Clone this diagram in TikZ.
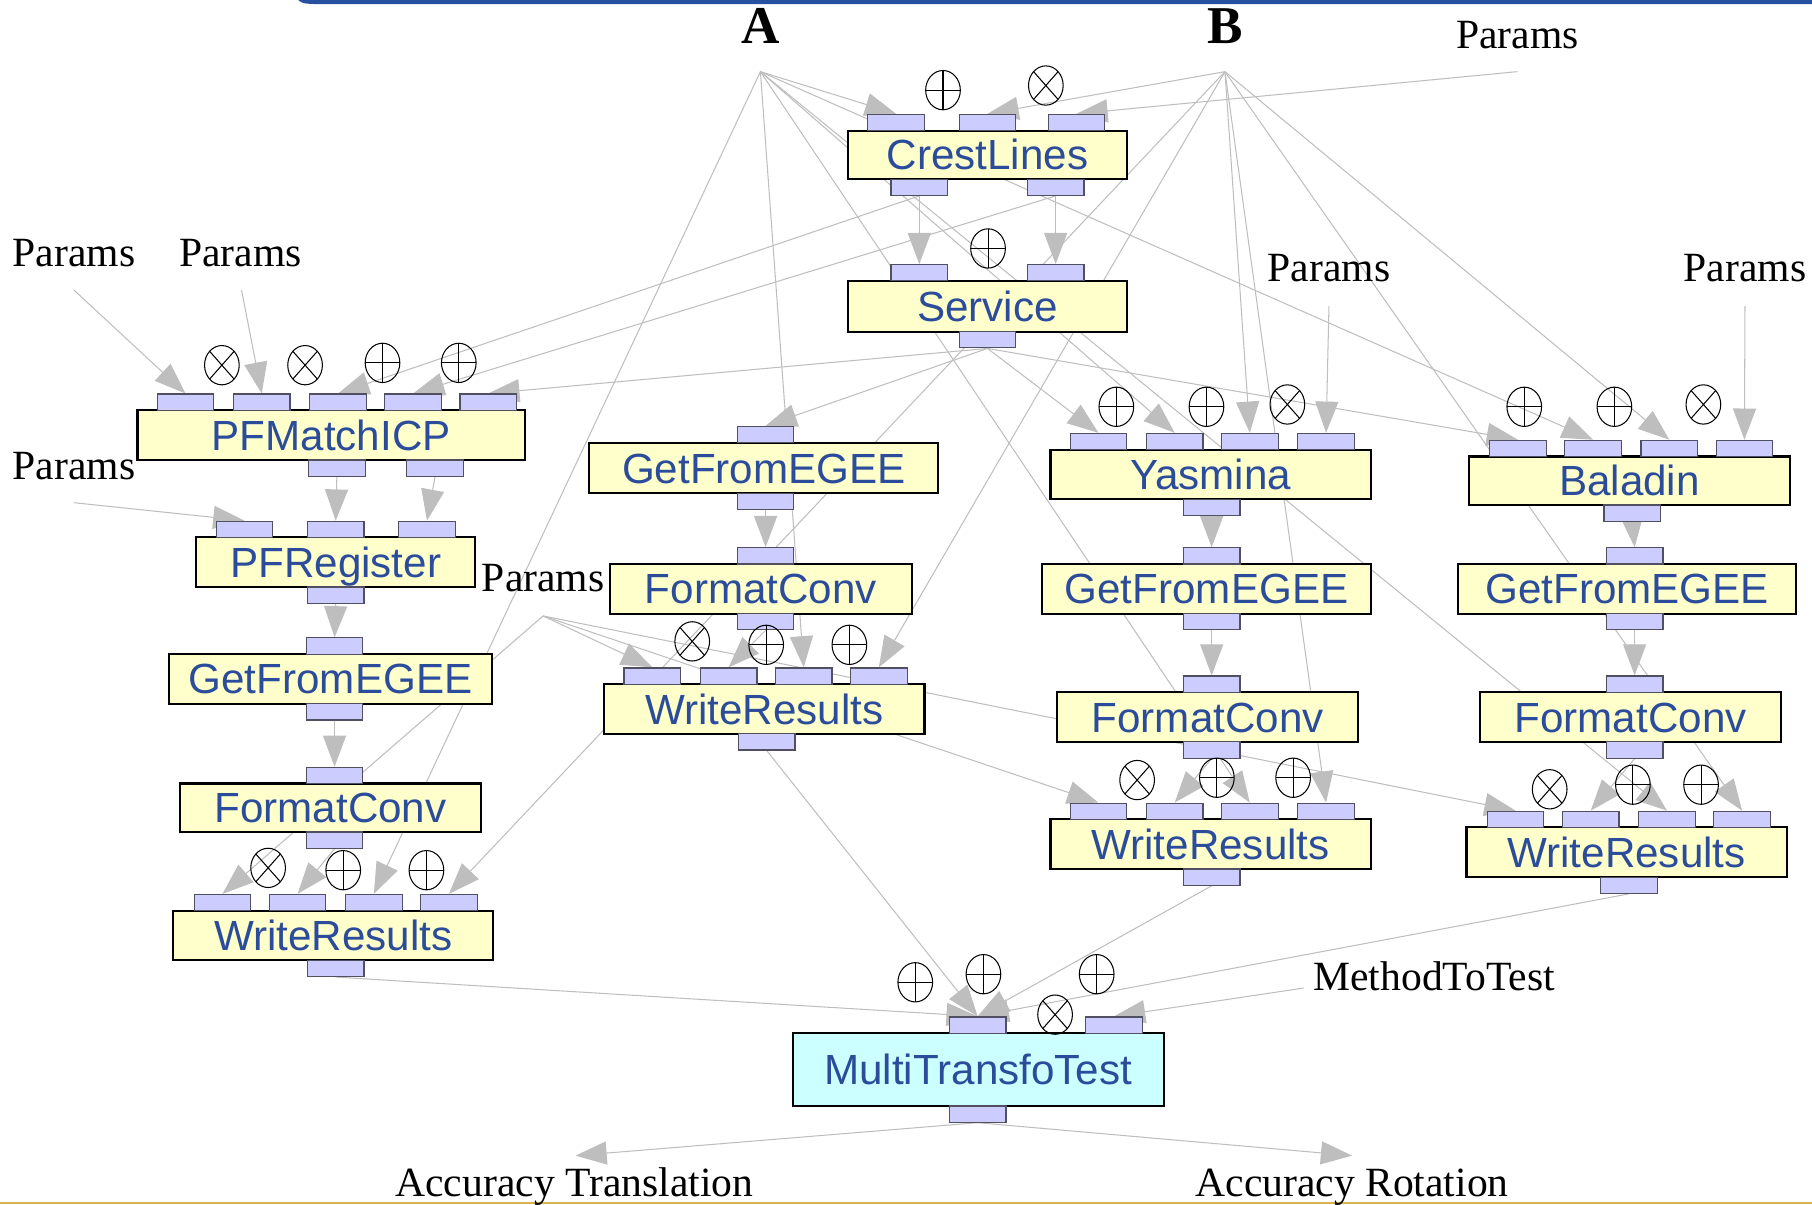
\documentclass[tikz,border=0pt]{standalone}
\usepackage{fontspec}
\setmainfont{Liberation Serif}
\newfontfamily\boxfont{Liberation Sans}
\usetikzlibrary{arrows.meta}
\pgfdeclarelayer{bg}
\pgfsetlayers{bg,main}

\definecolor{boxfill}{RGB}{255,255,204}
\definecolor{testfill}{RGB}{204,255,255}
\definecolor{portfill}{RGB}{204,204,255}
\definecolor{portline}{RGB}{80,80,96}
\definecolor{labelblue}{RGB}{43,76,155}
\definecolor{wiregray}{RGB}{190,190,190}
\definecolor{topbar}{RGB}{40,80,160}
\definecolor{bottombar}{RGB}{215,180,80}

\tikzset{
  proc/.style={draw=black, line width=1.8pt, fill=boxfill,
    font=\boxfont\fontsize{36.5}{40}\selectfont, text=labelblue,
    inner sep=0pt, text height=26pt, text depth=0pt},
  port/.style={draw=portline, line width=1pt, fill=portfill,
    minimum width=49pt, minimum height=14pt, inner sep=0pt},
  wire/.style={draw=wiregray, line width=0.9pt},
  feed/.style={wire, -{Triangle[length=27pt,width=20pt]}},
  lbl/.style={font=\fontsize{36}{40}\selectfont, anchor=base, inner sep=0pt},
  srclbl/.style={font=\bfseries\fontsize{46}{50}\selectfont, anchor=base, inner sep=0pt},
  oplus/.pic={
    \draw[line width=0.9pt] (0,0) ellipse [x radius=15, y radius=17];
    \draw[line width=0.9pt] (-15,0) -- (15,0) (0,-17) -- (0,17);
  },
  otimes/.pic={
    \draw[line width=0.9pt] (0,0) ellipse [x radius=15, y radius=17];
    \draw[line width=0.9pt] (-10.6,-12) -- (10.6,12) (-10.6,12) -- (10.6,-12);
  }
}
\newcommand\mkport[3]{\node[port] (#1) at (#2,#3) {};}

\begin{document}
\begin{tikzpicture}[x=1pt,y=-1pt]
\useasboundingbox (0,0) rectangle (1568,1042);

% page rules
\fill[topbar] (258,0) .. controls (262,3) .. (272,3.5) -- (1568,3.5) -- (1568,0) -- cycle;
\draw[bottombar, line width=2pt] (0,1041) -- (1568,1041);

% ---------- labels and free ends ----------
\node[srclbl] (srcA) at (658,38) {A};
\node[srclbl] (srcB) at (1060,38) {B};
\coordinate (ptA) at (658,62);
\coordinate (ptB) at (1060,62);

\node[lbl] (prm0) at (1313,42) {Params};   \coordinate (pr0) at (1313,62);
\node[lbl] (prm1) at (64,231) {Params};    \coordinate (pr1) at (64,251);
\node[lbl] (prm2) at (208,231) {Params};   \coordinate (pr2) at (209,251);
\node[lbl] (prm3) at (1150,244) {Params};  \coordinate (pr3) at (1150,265);
\node[lbl] (prm4) at (1510,244) {Params};  \coordinate (pr4) at (1510,265);
\node[lbl] (prm5) at (64,415) {Params};    \coordinate (pr5) at (64,435);
\node[lbl] (prm6) at (470,512) {Params};   \coordinate (pr6) at (470,533);
\node[lbl] (mtest) at (1241,857) {MethodToTest}; \coordinate (mt) at (1128,855);
\node[lbl] (acct) at (497,1035) {Accuracy Translation}; \coordinate (accT) at (498,1000);
\node[lbl] (accr) at (1170,1035) {Accuracy Rotation};   \coordinate (accR) at (1170,1000);

% ---------- processors ----------
\node[proc, minimum width=241pt, minimum height=42pt] (crest) at (854.5,134) {CrestLines};
\mkport{crest-i1}{775.5}{106} \mkport{crest-i2}{854.5}{106} \mkport{crest-i3}{931.5}{106}
\mkport{crest-o1}{795.5}{162} \mkport{crest-o2}{913.5}{162}

\node[proc, minimum width=241pt, minimum height=44pt] (serv) at (854.5,265) {Service};
\mkport{serv-i1}{795.5}{236} \mkport{serv-i2}{913.5}{236}
\mkport{serv-o}{854.5}{294}

\node[proc, minimum width=335pt, minimum height=43pt] (pfm) at (286.5,376.5) {PFMatchICP};
\mkport{pfm-i1}{160.5}{348} \mkport{pfm-i2}{226.5}{348} \mkport{pfm-i3}{292.5}{348}
\mkport{pfm-i4}{357.5}{348} \mkport{pfm-i5}{422.5}{348}
\mkport{pfm-o1}{291.5}{405} \mkport{pfm-o2}{376.5}{405}

\node[proc, minimum width=241pt, minimum height=43pt] (pfr) at (290.5,486.5) {PFRegister};
\mkport{pfr-i1}{211.5}{458} \mkport{pfr-i2}{290.5}{458} \mkport{pfr-i3}{369.5}{458}
\mkport{pfr-o}{290.5}{515}

\node[proc, minimum width=280pt, minimum height=43pt] (gfe1) at (286,587.5) {GetFromEGEE};
\mkport{gfe1-i}{289.5}{559} \mkport{gfe1-o}{289.5}{616}

\node[proc, minimum width=260pt, minimum height=42pt] (fc1) at (286,699) {FormatConv};
\mkport{fc1-i}{289.5}{671} \mkport{fc1-o}{289.5}{727}

\node[proc, minimum width=277pt, minimum height=43pt] (wr1) at (288.5,809.5) {WriteResults};
\mkport{wr1-i1}{192.5}{781} \mkport{wr1-i2}{257.5}{781} \mkport{wr1-i3}{323.5}{781} \mkport{wr1-i4}{388.5}{781}
\mkport{wr1-o}{290.5}{838}

\node[proc, minimum width=302pt, minimum height=44pt] (gfe2) at (661,405) {GetFromEGEE};
\mkport{gfe2-i}{662.5}{376} \mkport{gfe2-o}{662.5}{434}

\node[proc, minimum width=261pt, minimum height=43pt] (fc2) at (658.5,509.5) {FormatConv};
\mkport{fc2-i}{662.5}{481} \mkport{fc2-o}{662.5}{538}

\node[proc, minimum width=277pt, minimum height=43pt] (wr2) at (661.5,613.5) {WriteResults};
\mkport{wr2-i1}{564.5}{585} \mkport{wr2-i2}{630.5}{585} \mkport{wr2-i3}{695.5}{585} \mkport{wr2-i4}{760.5}{585}
\mkport{wr2-o}{663.5}{642}

\node[proc, minimum width=277pt, minimum height=43pt] (yas) at (1047.5,410.5) {Yasmina};
\mkport{yas-i1}{950.5}{382} \mkport{yas-i2}{1016.5}{382} \mkport{yas-i3}{1081.5}{382} \mkport{yas-i4}{1147.5}{382}
\mkport{yas-o}{1048.5}{439}

\node[proc, minimum width=284pt, minimum height=43pt] (gfe3) at (1044,509.5) {GetFromEGEE};
\mkport{gfe3-i}{1048.5}{481} \mkport{gfe3-o}{1048.5}{538}

\node[proc, minimum width=260pt, minimum height=43pt] (fc3) at (1045,620.5) {FormatConv};
\mkport{fc3-i}{1048.5}{592} \mkport{fc3-o}{1048.5}{649}

\node[proc, minimum width=277pt, minimum height=43pt] (wr3) at (1047.5,730.5) {WriteResults};
\mkport{wr3-i1}{950.5}{702} \mkport{wr3-i2}{1016.5}{702} \mkport{wr3-i3}{1081.5}{702} \mkport{wr3-i4}{1147.5}{702}
\mkport{wr3-o}{1048.5}{759}

\node[proc, minimum width=278pt, minimum height=42pt] (bal) at (1410,416) {Baladin};
\mkport{bal-i1}{1313.5}{388} \mkport{bal-i2}{1378.5}{388} \mkport{bal-i3}{1444.5}{388} \mkport{bal-i4}{1509.5}{388}
\mkport{bal-o}{1412.5}{444}

\node[proc, minimum width=292pt, minimum height=43pt] (gfe4) at (1408,509.5) {GetFromEGEE};
\mkport{gfe4-i}{1414.5}{481} \mkport{gfe4-o}{1414.5}{538}

\node[proc, minimum width=260pt, minimum height=43pt] (fc4) at (1411,620.5) {FormatConv};
\mkport{fc4-i}{1414.5}{592} \mkport{fc4-o}{1414.5}{649}

\node[proc, minimum width=277pt, minimum height=43pt] (wr4) at (1407.5,737.5) {WriteResults};
\mkport{wr4-i1}{1311.5}{709} \mkport{wr4-i2}{1376.5}{709} \mkport{wr4-i3}{1442.5}{709} \mkport{wr4-i4}{1507.5}{709}
\mkport{wr4-o}{1409.5}{766}

\node[proc, fill=testfill, minimum width=321pt, minimum height=63pt] (mtt) at (846.5,925.5) {MultiTransfoTest};
\mkport{mtt-i1}{846}{887} \mkport{mtt-i2}{964}{887}
\mkport{mtt-o}{846}{964}

% ---------- iteration strategy marks ----------
\pic at (816,78) {oplus};   \pic at (905,74) {otimes};
\pic at (855,215) {oplus};
\pic at (192,316) {otimes}; \pic at (264,316) {otimes}; \pic at (331,314) {oplus}; \pic at (397,314) {oplus};
\pic at (232,751) {otimes}; \pic at (297,753) {oplus};  \pic at (369,753) {oplus};
\pic at (599,555) {otimes}; \pic at (663,558) {oplus};  \pic at (735,558) {oplus};
\pic at (966,352) {oplus};  \pic at (1044,352) {oplus}; \pic at (1114,350) {otimes};
\pic at (984,675) {otimes}; \pic at (1053,673) {oplus}; \pic at (1119,673) {oplus};
\pic at (1319,352) {oplus}; \pic at (1397,352) {oplus}; \pic at (1474,350) {otimes};
\pic at (1341,683) {otimes}; \pic at (1413,679) {oplus}; \pic at (1472,679) {oplus};
\pic at (792,850) {oplus};  \pic at (851,843) {oplus};  \pic at (913,878) {otimes}; \pic at (949,843) {oplus};

% ---------- data links ----------
\begin{pgfonlayer}{bg}
  \foreach \t in {crest-i1,wr1-i3,wr2-i3,yas-i2,wr3-i3,bal-i2,wr4-i3}
    \draw[feed] (ptA) -- (\t.north);
  \foreach \t in {crest-i2,wr1-i4,wr2-i4,yas-i3,wr3-i4,bal-i3,wr4-i4}
    \draw[feed] (ptB) -- (\t.north);
  \draw[feed] (pr0) -- (crest-i3.north);
  \draw[feed] (crest-o1.south) -- (serv-i1.north);
  \draw[feed] (crest-o2.south) -- (serv-i2.north);
  \draw[feed] (crest-o1.south) -- (pfm-i3.north);
  \draw[feed] (crest-o2.south) -- (pfm-i4.north);
  \foreach \t in {pfm-i5,gfe2-i,yas-i1,bal-i1}
    \draw[feed] (serv-o.south) -- (\t.north);
  \draw[feed] (pr1) -- (pfm-i1.north);
  \draw[feed] (pr2) -- (pfm-i2.north);
  \draw[feed] (pfm-o1.south) -- (pfr-i2.north);
  \draw[feed] (pfm-o2.south) -- (pfr-i3.north);
  \draw[feed] (pr5) -- (pfr-i1.north);
  \draw[feed] (pfr-o.south) -- (gfe1-i.north);
  \draw[feed] (gfe1-o.south) -- (fc1-i.north);
  \draw[feed] (fc1-o.south) -- (wr1-i2.north);
  \draw[feed] (gfe2-o.south) -- (fc2-i.north);
  \draw[feed] (fc2-o.south) -- (wr2-i2.north);
  \draw[feed] (yas-o.south) -- (gfe3-i.north);
  \draw[feed] (gfe3-o.south) -- (fc3-i.north);
  \draw[feed] (fc3-o.south) -- (wr3-i2.north);
  \draw[feed] (bal-o.south) -- (gfe4-i.north);
  \draw[feed] (gfe4-o.south) -- (fc4-i.north);
  \draw[feed] (fc4-o.south) -- (wr4-i2.north);
  \draw[feed] (pr3) -- (yas-i4.north);
  \draw[feed] (pr4) -- (bal-i4.north);
  \foreach \t in {wr1-i1,wr2-i1,wr3-i1,wr4-i1}
    \draw[feed] (pr6) -- (\t.north);
  \foreach \s in {wr1-o,wr2-o,wr3-o,wr4-o}
    \draw[feed] (\s.south) -- (mtt-i1.north);
  \draw[feed] (mt) -- (mtt-i2.north);
  \draw[feed] (mtt-o.south) -- (accT);
  \draw[feed] (mtt-o.south) -- (accR);
\end{pgfonlayer}
\end{tikzpicture}
\end{document}
